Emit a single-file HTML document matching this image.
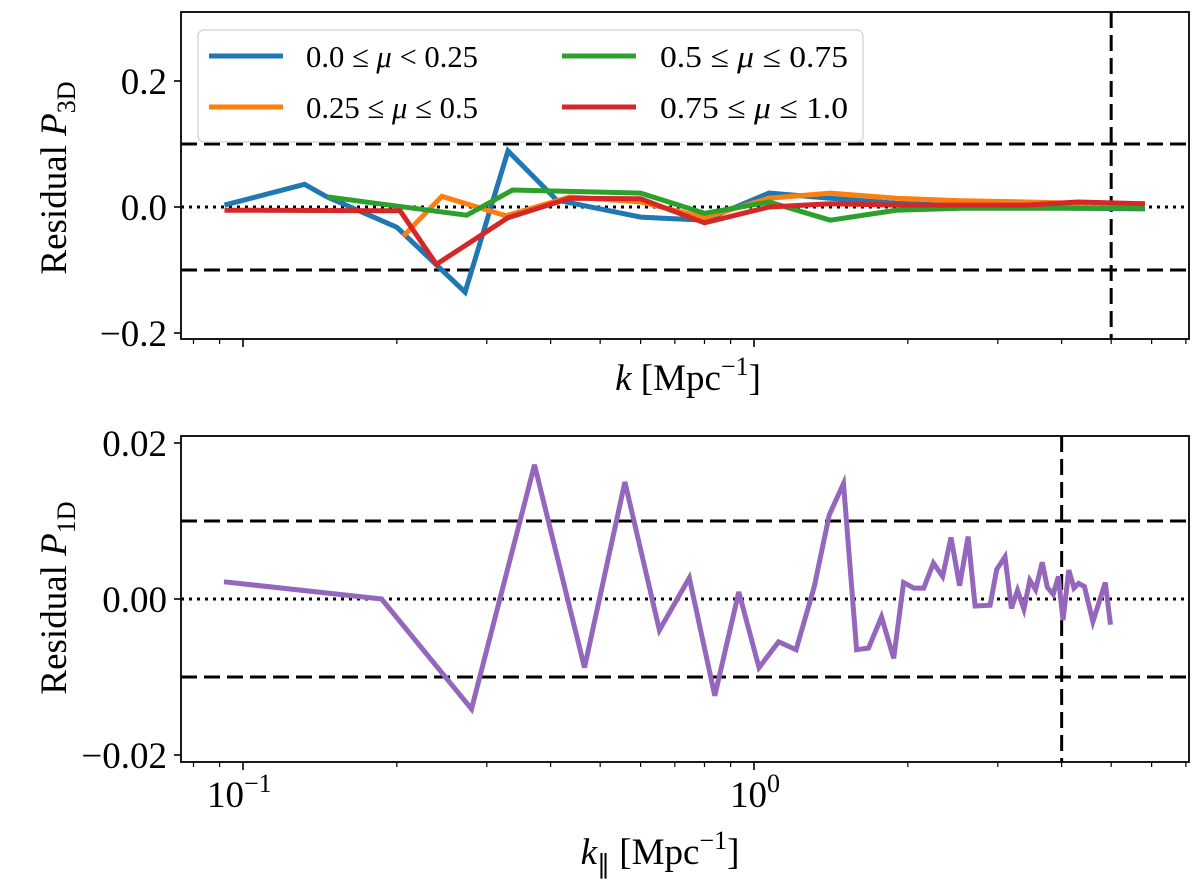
<!DOCTYPE html>
<html><head><meta charset="utf-8"><style>
body{margin:0;background:#fff}
svg{display:block;font-family:"Liberation Serif","DejaVu Serif",serif}
</style></head><body>
<svg id="fig" width="1200" height="882" viewBox="0 0 1200 882" xmlns="http://www.w3.org/2000/svg"></svg>
<script>
// ---- data ----
const blueK=[0.092,0.132,0.146,0.20,0.272,0.33,0.411,0.60,0.80,1.07,1.41,1.90,2.54,3.42,4.30,5.82];
const blueV=[0.003,0.036,0.016,-0.032,-0.135,0.089,0.011,-0.016,-0.021,0.022,0.014,0.006,0.002,0.0,-0.002,-0.003];
const orangeK=[0.206,0.245,0.327,0.436,0.60,0.80,1.07,1.41,1.90,2.54,3.42,4.30,5.82];
const orangeV=[-0.046,0.017,-0.014,0.016,0.008,-0.017,0.014,0.022,0.014,0.010,0.008,0.006,0.005];
const greenK=[0.146,0.274,0.337,0.60,0.80,1.07,1.41,1.90,2.54,3.42,4.30,5.82];
const greenV=[0.016,-0.013,0.027,0.022,-0.010,0.008,-0.021,-0.005,-0.002,-0.002,-0.002,-0.002];
const redK=[0.092,0.203,0.239,0.33,0.436,0.60,0.80,1.07,1.41,1.90,2.54,3.42,4.30,5.82];
const redV=[-0.005,-0.006,-0.091,-0.017,0.014,0.013,-0.025,0.0,0.005,0.003,0.003,0.003,0.008,0.005];
const p1dK=[0.0918,0.1867,0.280,0.372,0.466,0.559,0.653,0.747,0.838,0.934,1.023,1.117,1.209,1.312,1.404,1.497,1.588,1.675,1.776,1.877,1.962,2.056,2.148,2.244,2.339,2.43,2.525,2.624,2.708,2.898,2.985,3.099,3.19,3.278,3.375,3.465,3.557,3.664,3.75,3.85,3.942,4.025,4.13,4.228,4.317,4.432,4.605,4.87,4.985];
const p1dV=[0.0022,0.0,-0.0141,0.0172,-0.0088,0.0150,-0.0040,0.0027,-0.0124,0.0009,-0.0088,-0.0055,-0.0065,0.0016,0.0108,0.0148,-0.0065,-0.0063,-0.0023,-0.0076,0.0021,0.0014,0.0014,0.0046,0.0029,0.0079,0.0017,0.0080,-0.0009,-0.0008,0.0038,0.0054,-0.0012,0.0011,-0.0013,0.0024,0.0012,0.0047,0.0015,0.0006,0.0029,-0.0027,0.0037,0.0014,0.0020,0.0016,-0.0029,0.0021,-0.0033];
const topYTicks=[0.2,0.0,-0.2];
const topYLabels=["0.2","0.0","\u22120.2"];
const botYTicks=[0.02,0.0,-0.02];
const botYLabels=["0.02","0.00","\u22120.02"];
const kCut3D=5, kCut1D=4;

// ---- layout ----
const NS="http://www.w3.org/2000/svg";
const svg=document.getElementById('fig');
const L=181,R=1189;
const xs=k=>754+511*Math.log10(k);
const yTop=v=>207-v*630;
const yBot=v=>599-v*7800;
function el(tag,attrs,parent){const e=document.createElementNS(NS,tag);for(const a in attrs)e.setAttribute(a,attrs[a]);(parent||svg).appendChild(e);return e;}

function panel(T,B,yf,yt,yl,name,hl,kcut){
  const g=el('g',{});
  
  
  hl.forEach(v=>{const l=el('line',{x1:L,x2:R,y1:yf(v),y2:yf(v),stroke:'#000','stroke-width':3,'stroke-dasharray':'16,7'},g);
    });
  const z=el('line',{x1:L,x2:R,y1:yf(0),y2:yf(0),stroke:'#000','stroke-width':3,'stroke-dasharray':'3,5'},g);
  
  const vl=el('line',{x1:xs(kcut),x2:xs(kcut),y1:T,y2:B,stroke:'#000','stroke-width':3,'stroke-dasharray':'16,7'},g);
  
  yt.forEach((v,i)=>{el('line',{x1:L-7,x2:L,y1:yf(v),y2:yf(v),stroke:'#000','stroke-width':1.6},g);
    const t=el('text',{x:L-14,y:yf(v)+13,'text-anchor':'end','font-size':37},g);t.textContent=yl[i];
    });
  [0.08,0.09,0.1,0.2,0.3,0.4,0.5,0.6,0.7,0.8,0.9,1,2,3,4,5,6,7].forEach(k=>{const maj=(k===0.1||k===1);
    el('line',{x1:xs(k),x2:xs(k),y1:B,y2:B+(maj?8:5),stroke:'#000','stroke-width':maj?1.6:1.2},g);});
  return g;
}
const gTop=panel(12,339,yTop,topYTicks,topYLabels,'top-panel',[0.1,-0.1],kCut3D);
const gBot=panel(436,762,yBot,botYTicks,botYLabels,'bottom-panel',[0.01,-0.01],kCut1D);

function series(K,V,yf,color,name,g){
  const d=K.map((k,i)=>(i?'L':'M')+xs(k).toFixed(1)+','+yf(V[i]).toFixed(1)).join('');
  const p=el('path',{d:d,fill:'none',stroke:color,'stroke-width':5,'stroke-linejoin':'miter'},g);
  
  
}
series(blueK,blueV,yTop,'#1f77b4','series-mu-0-025',gTop);
series(orangeK,orangeV,yTop,'#ff7f0e','series-mu-025-05',gTop);
series(greenK,greenV,yTop,'#2ca02c','series-mu-05-075',gTop);
series(redK,redV,yTop,'#d62728','series-mu-075-1',gTop);
series(p1dK,p1dV,yBot,'#9467bd','series-p1d',gBot);

[[12,339],[436,762]].forEach(([T,B])=>{const f=el('rect',{x:L,y:T,width:R-L,height:B-T,fill:'none',stroke:'#000','stroke-width':1.8});
  });
</script>
<svg style="position:absolute;left:0;top:0" width="1200" height="882">
<g font-family="Liberation Serif, serif" font-size="31">
<rect x="198" y="30" width="665" height="112" rx="6" fill="#fff" fill-opacity="0.85" stroke="#d8d8d8" stroke-width="1.5"/>
<line x1="209" x2="283" y1="56" y2="56" stroke="#1f77b4" stroke-width="5"/>
<text x="306" y="67" textLength="172" lengthAdjust="spacingAndGlyphs">0.0 ≤ <tspan font-style="italic">μ</tspan> &lt; 0.25</text>
<line x1="209" x2="283" y1="107" y2="107" stroke="#ff7f0e" stroke-width="5"/>
<text x="306" y="118" textLength="172" lengthAdjust="spacingAndGlyphs">0.25 ≤ <tspan font-style="italic">μ</tspan> ≤ 0.5</text>
<line x1="562" x2="636" y1="56" y2="56" stroke="#2ca02c" stroke-width="5"/>
<text x="660" y="67" textLength="188" lengthAdjust="spacingAndGlyphs">0.5 ≤ <tspan font-style="italic">μ</tspan> ≤ 0.75</text>
<line x1="562" x2="636" y1="107" y2="107" stroke="#d62728" stroke-width="5"/>
<text x="660" y="118" textLength="188" lengthAdjust="spacingAndGlyphs">0.75 ≤ <tspan font-style="italic">μ</tspan> ≤ 1.0</text>
</g>
<g font-family="Liberation Serif, serif" font-size="37">
<text x="207" y="807">10<tspan dy="-15" font-size="26">−1</tspan></text>
<text x="730" y="807">10<tspan dy="-15" font-size="26">0</tspan></text>
<text x="688" y="390" text-anchor="middle"><tspan font-style="italic">k</tspan> [Mpc<tspan dy="-15" font-size="26">−1</tspan><tspan dy="15">]</tspan></text>
<text x="660" y="864" text-anchor="middle"><tspan font-style="italic">k</tspan><tspan font-size="26" dy="9">∥</tspan><tspan dy="-9"> [Mpc</tspan><tspan dy="-15" font-size="26">−1</tspan><tspan dy="15">]</tspan></text>
<text transform="translate(66,178) rotate(-90)" text-anchor="middle">Residual <tspan font-style="italic">P</tspan><tspan font-size="26" dy="9">3D</tspan></text>
<text transform="translate(66,598) rotate(-90)" text-anchor="middle">Residual <tspan font-style="italic">P</tspan><tspan font-size="26" dy="9">1D</tspan></text>
</g>
</svg>
</body></html>
